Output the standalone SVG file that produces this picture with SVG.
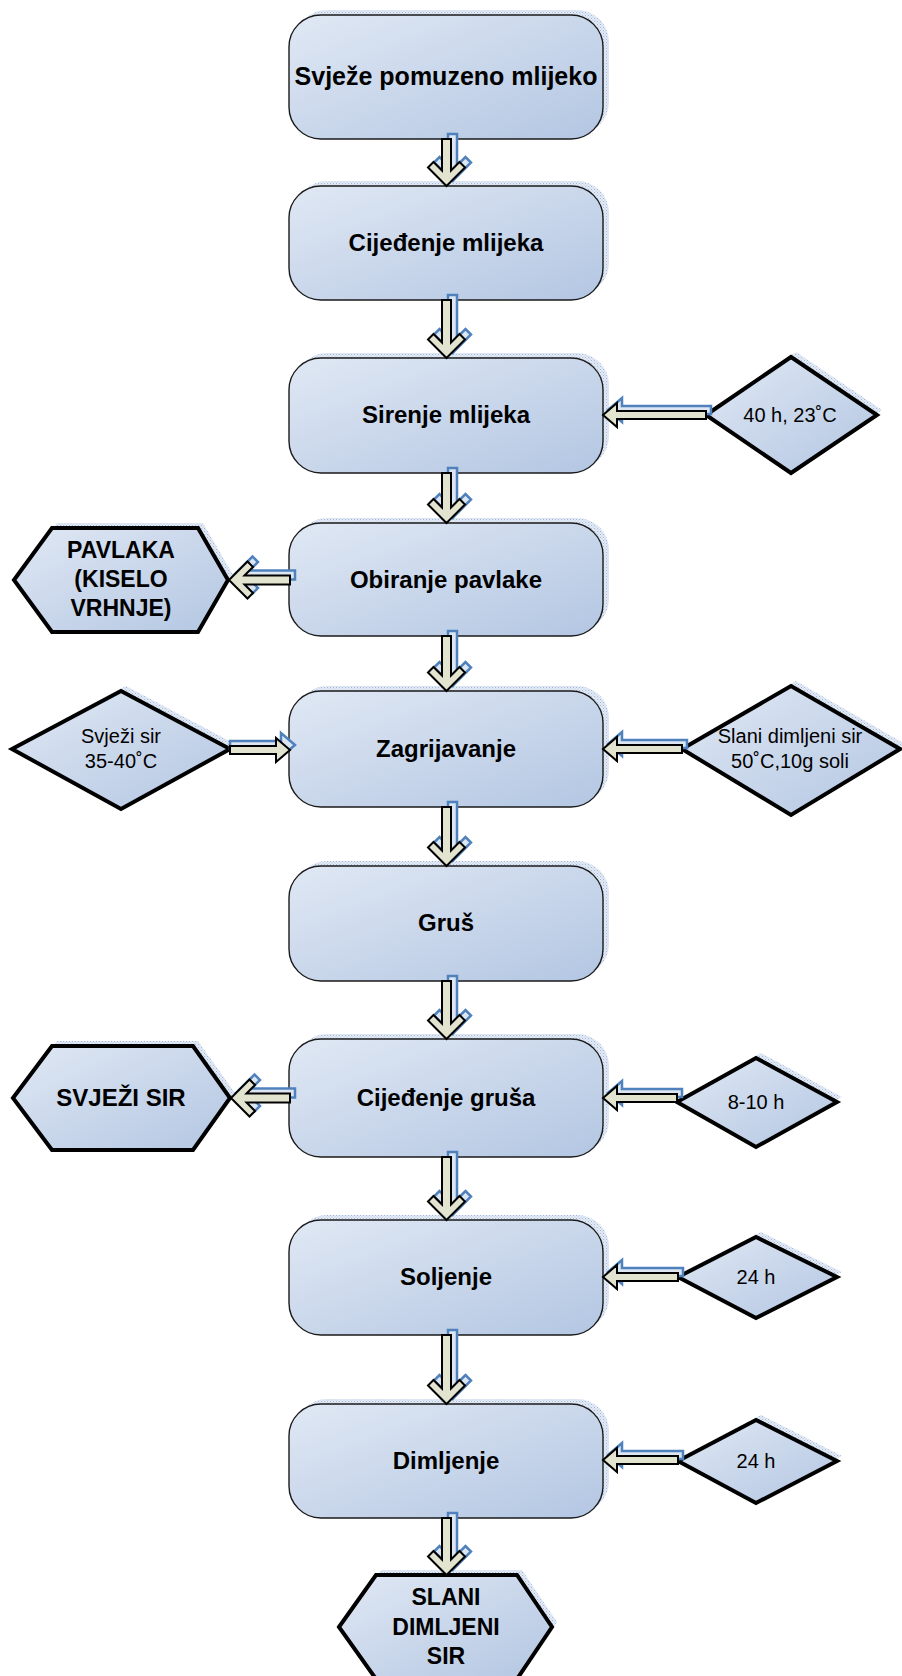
<svg xmlns="http://www.w3.org/2000/svg" width="902" height="1676" viewBox="0 0 902 1676">
<style>
.box{fill:url(#g);stroke:#1a1a1a;stroke-width:1.4}
.thick{fill:url(#g);stroke:#000;stroke-width:4;stroke-linejoin:miter}
.sh{fill:url(#hatch);stroke:none}
.bt{font-family:"Liberation Sans",Arial,sans-serif;font-weight:bold;font-size:24px;text-anchor:middle;fill:#000}
.ht{font-family:"Liberation Sans",Arial,sans-serif;font-weight:bold;font-size:23px;text-anchor:middle;fill:#000}
.dt{font-family:"Liberation Sans",Arial,sans-serif;font-size:20px;text-anchor:middle;fill:#000}
.ar{fill:#e2e4d0;stroke:#000;stroke-width:2;stroke-linejoin:miter}
.as{fill:#dce6f2;stroke:#4f81bd;stroke-width:2.5;stroke-linejoin:miter}
</style>
<defs>
<linearGradient id="g" x1="0" y1="0" x2="1" y2="1">
<stop offset="0" stop-color="#e0e8f4"/>
<stop offset="1" stop-color="#b3c6e2"/>
</linearGradient>
<pattern id="hatch" width="3" height="3" patternUnits="userSpaceOnUse">
<rect width="3" height="3" fill="#e4ebf5"/>
<rect width="1" height="1" fill="#9fb7da"/>
<rect x="1.5" y="1.5" width="1" height="1" fill="#b7c9e3"/>
</pattern>
</defs>
<rect width="902" height="1676" fill="#fff"/>

<g id="n1"><rect class="sh" x="295" y="10" width="314" height="124" rx="32"/><rect class="box" x="289" y="15" width="314" height="124" rx="32"/><text class="bt" x="446" y="85" style="font-size:25px">Svježe pomuzeno mlijeko</text></g>
<g id="n2"><rect class="sh" x="295" y="181" width="314" height="114" rx="32"/><rect class="box" x="289" y="186" width="314" height="114" rx="32"/><text class="bt" x="446" y="251">Cijeđenje mlijeka</text></g>
<g id="n3"><rect class="sh" x="295" y="353" width="314" height="115" rx="32"/><rect class="box" x="289" y="358" width="314" height="115" rx="32"/><text class="bt" x="446" y="423">Sirenje mlijeka</text></g>
<g id="n4"><rect class="sh" x="295" y="518" width="314" height="113" rx="32"/><rect class="box" x="289" y="523" width="314" height="113" rx="32"/><text class="bt" x="446" y="588">Obiranje pavlake</text></g>
<g id="n5"><rect class="sh" x="295" y="686" width="314" height="116" rx="32"/><rect class="box" x="289" y="691" width="314" height="116" rx="32"/><text class="bt" x="446" y="757">Zagrijavanje</text></g>
<g id="n6"><rect class="sh" x="295" y="861" width="314" height="115" rx="32"/><rect class="box" x="289" y="866" width="314" height="115" rx="32"/><text class="bt" x="446" y="931">Gruš</text></g>
<g id="n7"><rect class="sh" x="295" y="1034" width="314" height="118" rx="32"/><rect class="box" x="289" y="1039" width="314" height="118" rx="32"/><text class="bt" x="446" y="1106">Cijeđenje gruša</text></g>
<g id="n8"><rect class="sh" x="295" y="1215" width="314" height="115" rx="32"/><rect class="box" x="289" y="1220" width="314" height="115" rx="32"/><text class="bt" x="446" y="1285">Soljenje</text></g>
<g id="n9"><rect class="sh" x="295" y="1399" width="314" height="114" rx="32"/><rect class="box" x="289" y="1404" width="314" height="114" rx="32"/><text class="bt" x="446" y="1469">Dimljenje</text></g>

<g id="d1"><polygon class="sh" points="711,410 796,352 882,410 796,468"/><polygon class="thick" points="706,415 791,357 877,415 791,473"/><text class="dt" x="790" y="422">40 h, 23˚C</text></g>
<g id="d2"><polygon class="sh" points="17,744 126,686 235,744 126,804"/><polygon class="thick" points="12,749 121,691 230,749 121,809"/><text class="dt" x="121" y="743">Svježi sir</text><text class="dt" x="121" y="768">35-40˚C</text></g>
<g id="d3"><polygon class="sh" points="687,744 796,681 905,744 796,810"/><polygon class="thick" points="682,749 791,686 900,749 791,815"/><text class="dt" x="790" y="743">Slani dimljeni sir</text><text class="dt" x="790" y="768">50˚C,10g soli</text></g>
<g id="d4"><polygon class="sh" points="682,1097 761,1053 842,1097 761,1142"/><polygon class="thick" points="677,1102 756,1058 837,1102 756,1147"/><text class="dt" x="756" y="1109">8-10 h</text></g>
<g id="d5"><polygon class="sh" points="683,1272 761,1232 842,1272 761,1313"/><polygon class="thick" points="678,1277 756,1237 837,1277 756,1318"/><text class="dt" x="756" y="1284">24 h</text></g>
<g id="d6"><polygon class="sh" points="683,1456 761,1415 842,1456 761,1498"/><polygon class="thick" points="678,1461 756,1420 837,1461 756,1503"/><text class="dt" x="756" y="1468">24 h</text></g>

<g id="h1"><polygon class="sh" points="19,575 57,523 203,523 233,575 203,627 57,627"/><polygon class="thick" points="14,580 52,528 198,528 228,580 198,632 52,632"/><text class="ht" x="121" y="558">PAVLAKA</text><text class="ht" x="121" y="587">(KISELO</text><text class="ht" x="121" y="616">VRHNJE)</text></g>
<g id="h2"><polygon class="sh" points="18,1093 57,1041 198,1041 235,1093 198,1145 57,1145"/><polygon class="thick" points="13,1098 52,1046 193,1046 230,1098 193,1150 52,1150"/><text class="ht" x="121" y="1106" style="font-size:24px">SVJEŽI SIR</text></g>
<g id="h3"><polygon class="sh" points="344,1622 381,1570 522,1570 557,1622 522,1674 381,1674"/><polygon class="thick" points="339,1627 376,1575 517,1575 552,1627 517,1679 376,1679"/><text class="ht" x="446" y="1605">SLANI</text><text class="ht" x="446" y="1635">DIMLJENI</text><text class="ht" x="446" y="1664">SIR</text></g>

<g id="connectors">
<!-- vertical arrows -->
<g transform="translate(452.5,181)"><path class="as" d="M0 0 L18.5 -18.5 L13 -24 L4.5 -15.5 L4.5 -47 L-4.5 -47 L-4.5 -15.5 L-13 -24 L-18.5 -18.5 Z"/></g>
<g transform="translate(446.5,186)"><path class="ar" d="M0 0 L18.5 -18.5 L13 -24 L4.5 -15.5 L4.5 -47 L-4.5 -47 L-4.5 -15.5 L-13 -24 L-18.5 -18.5 Z"/></g>
<g transform="translate(452.5,353)"><path class="as" d="M0 0 L18.5 -18.5 L13 -24 L4.5 -15.5 L4.5 -58 L-4.5 -58 L-4.5 -15.5 L-13 -24 L-18.5 -18.5 Z"/></g>
<g transform="translate(446.5,358)"><path class="ar" d="M0 0 L18.5 -18.5 L13 -24 L4.5 -15.5 L4.5 -58 L-4.5 -58 L-4.5 -15.5 L-13 -24 L-18.5 -18.5 Z"/></g>
<g transform="translate(452.5,518)"><path class="as" d="M0 0 L18.5 -18.5 L13 -24 L4.5 -15.5 L4.5 -50 L-4.5 -50 L-4.5 -15.5 L-13 -24 L-18.5 -18.5 Z"/></g>
<g transform="translate(446.5,523)"><path class="ar" d="M0 0 L18.5 -18.5 L13 -24 L4.5 -15.5 L4.5 -50 L-4.5 -50 L-4.5 -15.5 L-13 -24 L-18.5 -18.5 Z"/></g>
<g transform="translate(452.5,686)"><path class="as" d="M0 0 L18.5 -18.5 L13 -24 L4.5 -15.5 L4.5 -55 L-4.5 -55 L-4.5 -15.5 L-13 -24 L-18.5 -18.5 Z"/></g>
<g transform="translate(446.5,691)"><path class="ar" d="M0 0 L18.5 -18.5 L13 -24 L4.5 -15.5 L4.5 -55 L-4.5 -55 L-4.5 -15.5 L-13 -24 L-18.5 -18.5 Z"/></g>
<g transform="translate(452.5,861)"><path class="as" d="M0 0 L18.5 -18.5 L13 -24 L4.5 -15.5 L4.5 -59 L-4.5 -59 L-4.5 -15.5 L-13 -24 L-18.5 -18.5 Z"/></g>
<g transform="translate(446.5,866)"><path class="ar" d="M0 0 L18.5 -18.5 L13 -24 L4.5 -15.5 L4.5 -59 L-4.5 -59 L-4.5 -15.5 L-13 -24 L-18.5 -18.5 Z"/></g>
<g transform="translate(452.5,1034)"><path class="as" d="M0 0 L18.5 -18.5 L13 -24 L4.5 -15.5 L4.5 -58 L-4.5 -58 L-4.5 -15.5 L-13 -24 L-18.5 -18.5 Z"/></g>
<g transform="translate(446.5,1039)"><path class="ar" d="M0 0 L18.5 -18.5 L13 -24 L4.5 -15.5 L4.5 -58 L-4.5 -58 L-4.5 -15.5 L-13 -24 L-18.5 -18.5 Z"/></g>
<g transform="translate(452.5,1215)"><path class="as" d="M0 0 L18.5 -18.5 L13 -24 L4.5 -15.5 L4.5 -63 L-4.5 -63 L-4.5 -15.5 L-13 -24 L-18.5 -18.5 Z"/></g>
<g transform="translate(446.5,1220)"><path class="ar" d="M0 0 L18.5 -18.5 L13 -24 L4.5 -15.5 L4.5 -63 L-4.5 -63 L-4.5 -15.5 L-13 -24 L-18.5 -18.5 Z"/></g>
<g transform="translate(452.5,1399)"><path class="as" d="M0 0 L18.5 -18.5 L13 -24 L4.5 -15.5 L4.5 -69 L-4.5 -69 L-4.5 -15.5 L-13 -24 L-18.5 -18.5 Z"/></g>
<g transform="translate(446.5,1404)"><path class="ar" d="M0 0 L18.5 -18.5 L13 -24 L4.5 -15.5 L4.5 -69 L-4.5 -69 L-4.5 -15.5 L-13 -24 L-18.5 -18.5 Z"/></g>
<g transform="translate(452.5,1570)"><path class="as" d="M0 0 L18.5 -18.5 L13 -24 L4.5 -15.5 L4.5 -57 L-4.5 -57 L-4.5 -15.5 L-13 -24 L-18.5 -18.5 Z"/></g>
<g transform="translate(446.5,1575)"><path class="ar" d="M0 0 L18.5 -18.5 L13 -24 L4.5 -15.5 L4.5 -57 L-4.5 -57 L-4.5 -15.5 L-13 -24 L-18.5 -18.5 Z"/></g>

<!-- horizontal arrows from right diamonds -->
<g transform="translate(608,410)"><path class="as" d="M0 0 L14 -12 L14 -4 L103 -4 L103 4 L14 4 L14 12 Z"/></g>
<g transform="translate(603,415)"><path class="ar" d="M0 0 L14 -12 L14 -4 L103 -4 L103 4 L14 4 L14 12 Z"/></g>
<g transform="translate(608,744)"><path class="as" d="M0 0 L14 -12 L14 -4 L79 -4 L79 4 L14 4 L14 12 Z"/></g>
<g transform="translate(603,749)"><path class="ar" d="M0 0 L14 -12 L14 -4 L79 -4 L79 4 L14 4 L14 12 Z"/></g>
<g transform="translate(608,1093)"><path class="as" d="M0 0 L14 -12 L14 -4 L74 -4 L74 4 L14 4 L14 12 Z"/></g>
<g transform="translate(603,1098)"><path class="ar" d="M0 0 L14 -12 L14 -4 L74 -4 L74 4 L14 4 L14 12 Z"/></g>
<g transform="translate(608,1272)"><path class="as" d="M0 0 L14 -12 L14 -4 L75 -4 L75 4 L14 4 L14 12 Z"/></g>
<g transform="translate(603,1277)"><path class="ar" d="M0 0 L14 -12 L14 -4 L75 -4 L75 4 L14 4 L14 12 Z"/></g>
<g transform="translate(608,1455)"><path class="as" d="M0 0 L14 -12 L14 -4 L75 -4 L75 4 L14 4 L14 12 Z"/></g>
<g transform="translate(603,1460)"><path class="ar" d="M0 0 L14 -12 L14 -4 L75 -4 L75 4 L14 4 L14 12 Z"/></g>

<!-- right-pointing arrow from left diamond -->
<g transform="translate(295,745) scale(-1,1)"><path class="as" d="M0 0 L14 -12 L14 -4 L65 -4 L65 4 L14 4 L14 12 Z"/></g>
<g transform="translate(290,750) scale(-1,1)"><path class="ar" d="M0 0 L14 -12 L14 -4 L60 -4 L60 4 L14 4 L14 12 Z"/></g>

<!-- left chevron arrows to hexagons -->
<g transform="translate(234,575) rotate(90)"><path class="as" d="M0 0 L18.5 -18.5 L13 -24 L4.5 -15.5 L4.5 -61 L-4.5 -61 L-4.5 -15.5 L-13 -24 L-18.5 -18.5 Z"/></g>
<g transform="translate(229,580) rotate(90)"><path class="ar" d="M0 0 L18.5 -18.5 L13 -24 L4.5 -15.5 L4.5 -61 L-4.5 -61 L-4.5 -15.5 L-13 -24 L-18.5 -18.5 Z"/></g>
<g transform="translate(236,1093) rotate(90)"><path class="as" d="M0 0 L18.5 -18.5 L13 -24 L4.5 -15.5 L4.5 -59 L-4.5 -59 L-4.5 -15.5 L-13 -24 L-18.5 -18.5 Z"/></g>
<g transform="translate(231,1098) rotate(90)"><path class="ar" d="M0 0 L18.5 -18.5 L13 -24 L4.5 -15.5 L4.5 -59 L-4.5 -59 L-4.5 -15.5 L-13 -24 L-18.5 -18.5 Z"/></g>
</g>
</svg>
